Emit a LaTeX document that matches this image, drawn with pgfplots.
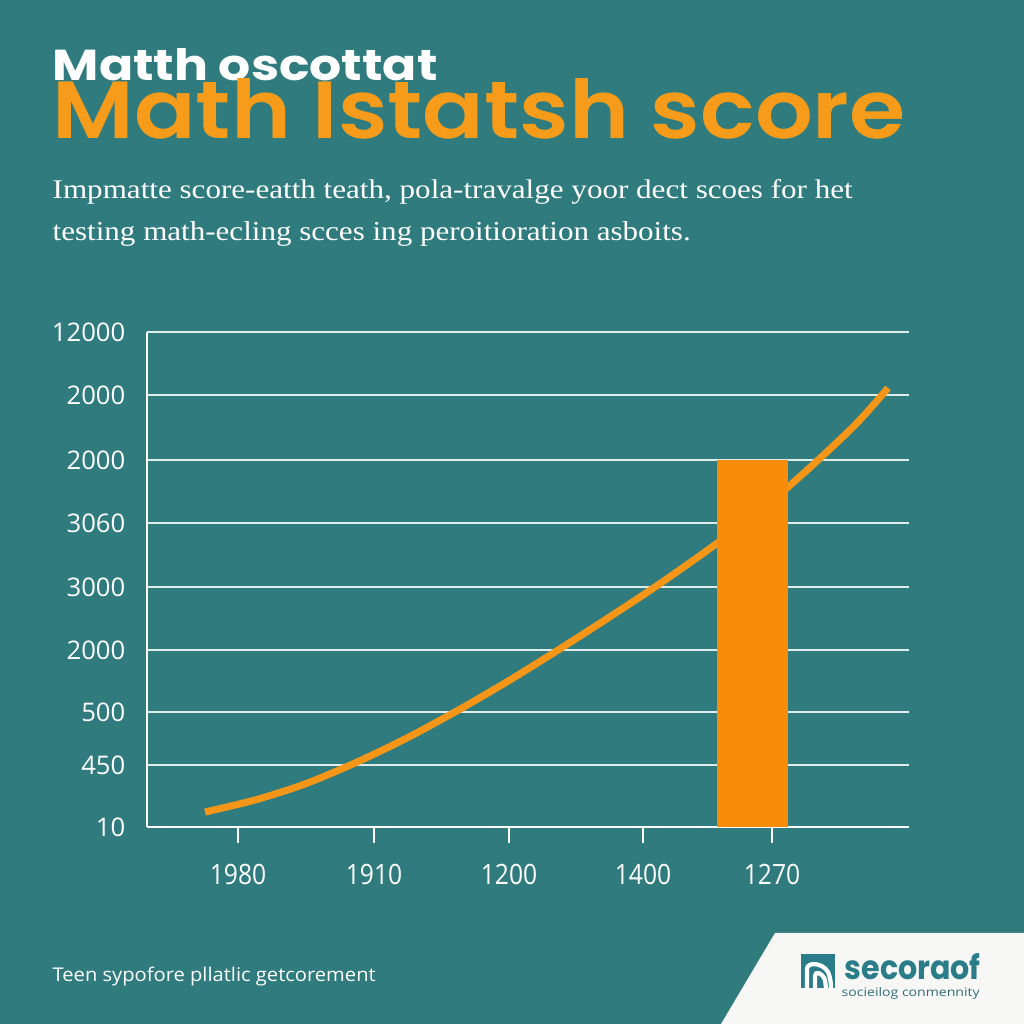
\documentclass[border=0pt]{standalone}
\usepackage{pgfplots}
\pgfplotsset{compat=1.18}
\usepackage{fontspec}
\usepackage{graphicx}
\newfontfamily\pop{Poppins}
\newfontfamily\popsb{Poppins SemiBold}
\newfontfamily\osans{Open Sans}
\newfontfamily\lserif{Liberation Serif}
\definecolor{bg}{RGB}{47,123,125}
\definecolor{orB}{RGB}{249,141,10}
\definecolor{orL}{RGB}{246,150,24}
\definecolor{orT}{RGB}{246,156,26}
\definecolor{logoteal}{RGB}{42,125,136}
\definecolor{logotext}{RGB}{50,110,120}
\definecolor{gridc}{RGB}{222,236,236}
\definecolor{paper}{RGB}{247,247,245}
\newcommand\xl[1]{\scalebox{0.88}[1]{#1}}
\begin{document}
\begin{tikzpicture}
\useasboundingbox (0,0) rectangle (10.24,10.24);
\fill[bg] (0,0) rectangle (10.24,10.24);
% titles
\node[anchor=south west, inner sep=0pt, text=white] at (0.52,9.42) {\resizebox{3.85cm}{0.32cm}{\pop\bfseries Matth oscottat}};
\node[anchor=south west, inner sep=0pt, text=orT] at (0.52,8.84) {\resizebox{8.53cm}{0.60cm}{\popsb Math Istatsh score}};
\node[anchor=base west, inner sep=0pt, text=white] at (0.52,8.25) {\resizebox{8.00cm}{0.19cm}{\lserif Impmatte score-eatth teath, pola-travalge yoor dect scoes for het}};
\node[anchor=base west, inner sep=0pt, text=white] at (0.52,7.83) {\resizebox{6.38cm}{0.19cm}{\lserif testing math-ecling scces ing peroitioration asboits.}};
% footer
\node[anchor=base west, inner sep=0pt, text=white] at (0.52,0.42) {\resizebox{3.23cm}{0.145cm}{\osans Teen sypofore pllatlic getcorement}};
% logo panel
\fill[paper] (7.75,0.91) -- (10.24,0.91) -- (10.24,0) -- (7.21,0) -- cycle;
\fill[logoteal] (8.01,0.36) rectangle (8.35,0.70);
\draw[white, line width=1.2pt] (8.07,0.36) -- (8.07,0.55) .. controls (8.07,0.62) and (8.22,0.62) .. (8.28,0.52) .. controls (8.30,0.48) and (8.31,0.42) .. (8.31,0.36);
\draw[white, line width=1.2pt] (8.15,0.36) -- (8.15,0.48) .. controls (8.15,0.53) and (8.22,0.52) .. (8.25,0.44) -- (8.26,0.36);
\node[anchor=base west, inner sep=0pt, text=logoteal] at (8.44,0.45) {\resizebox{1.36cm}{0.26cm}{\pop\bfseries secoraof}};
\node[anchor=base west, inner sep=0pt, text=logotext] at (8.41,0.27) {\resizebox{1.38cm}{0.09cm}{\osans socieilog conmennity}};
\begin{axis}[
  at={(1.47cm,1.97cm)}, anchor=south west,
  scale only axis, width=7.62cm, height=4.95cm,
  xmin=147, xmax=909, ymin=0, ymax=495,
  enlargelimits=false, clip=false,
  axis x line*=bottom, axis y line*=left,
  axis line style={white, line width=0.8pt},
  xtick pos=bottom, ytick pos=left,
  xtick align=outside, ytick align=inside,
  major tick length=0.16cm,
  ytick={0,62,115,177,240,304,367,432,495},
  yticklabels={10,450,500,2000,3000,3060,2000,2000,12000},
  xtick={238,374,509,643,772},
  xticklabels={\xl{1980},\xl{1910},\xl{1200},\xl{1400},\xl{1270}},
  ymajorgrids,
  grid style={gridc, line width=0.55pt},
  ytick style={draw=none},
  xtick style={draw=white, line width=0.7pt},
  yticklabel style={font=\osans\fontsize{7.3}{8}\selectfont, text=white, anchor=east, inner sep=0pt, xshift=-0.21cm},
  xticklabel style={font=\osans\fontsize{7.97}{8}\selectfont, text=white, anchor=north, inner sep=0pt, yshift=-0.20cm},
]
\addplot[smooth, line width=2pt, color=orL, line cap=butt] coordinates {
 (205,15) (255,27) (305,43) (355,64) (405,88) (455,115) (505,144) (555,175)
 (605,207) (655,240) (705,275) (755,312) (805,355) (855,402) (888,439)
};
\addplot[ybar, bar width=71, fill=orB, draw=none] coordinates {(752.5,367)};
\end{axis}
\end{tikzpicture}
\end{document}
